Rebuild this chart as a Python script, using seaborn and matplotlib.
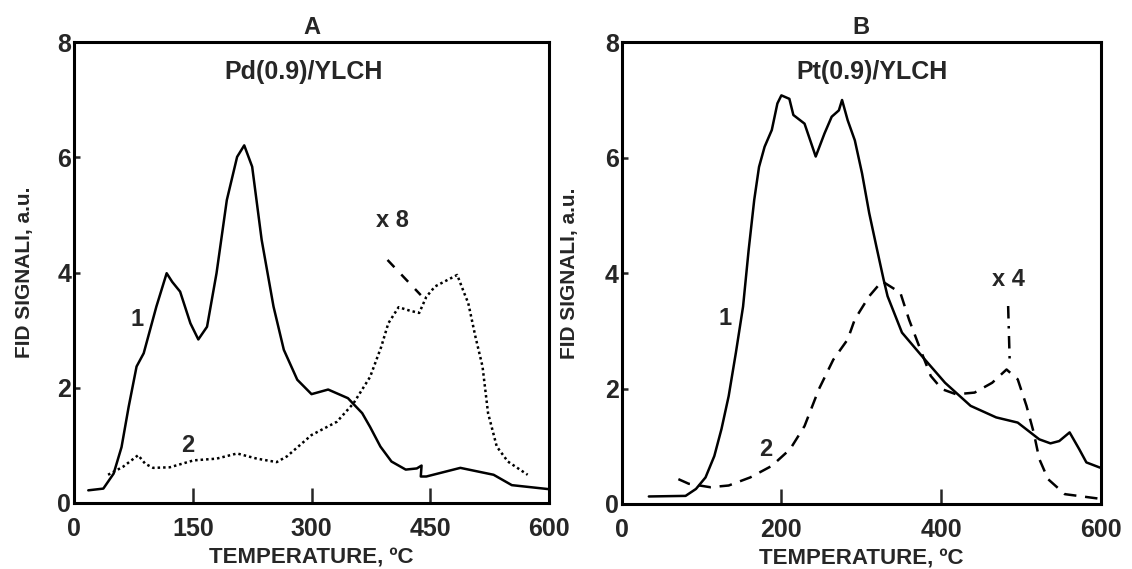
import numpy as np
import pandas as pd
import seaborn as sns
import matplotlib
matplotlib.use("Agg")
import matplotlib.pyplot as plt

# Panel A: Pd(0.9)/YLCH
a1_temp = [18, 37, 50, 60, 69, 79, 88, 104, 117, 124, 134, 147, 157, 168, 180, 193, 206, 215, 225, 237,
           252, 265, 282, 300, 321, 346, 364, 374, 387, 401, 419, 433, 439, 438, 445, 488, 516, 530,
           553, 600]
a1_sig = [0.22, 0.25, 0.51, 0.97, 1.67, 2.37, 2.60, 3.41, 3.99, 3.84, 3.67, 3.12, 2.84, 3.06, 3.99, 5.26,
          6.01, 6.21, 5.84, 4.57, 3.41, 2.66, 2.14, 1.89, 1.97, 1.82, 1.56, 1.32, 0.98, 0.72, 0.58, 0.60,
          0.65, 0.46, 0.46, 0.61, 0.53, 0.49, 0.31, 0.24]

a2_temp = [43, 62, 81, 90, 100, 121, 151, 180, 206, 231, 256, 269, 300, 332, 353, 374, 388, 397, 410,
           424, 436, 445, 456, 484, 493, 498, 507, 516, 523, 534, 548, 573]
a2_sig = [0.49, 0.63, 0.83, 0.68, 0.61, 0.62, 0.74, 0.77, 0.86, 0.77, 0.71, 0.81, 1.18, 1.41, 1.73, 2.19,
          2.71, 3.12, 3.40, 3.34, 3.30, 3.58, 3.76, 3.96, 3.64, 3.47, 2.89, 2.37, 1.56, 0.98, 0.72, 0.49]

a_ptr_temp = [396, 438]
a_ptr_sig = [4.22, 3.61]

# Panel B: Pt(0.9)/YLCH
b1_temp = [34, 80, 93, 105, 116, 125, 134, 143, 152, 159, 166, 172, 179, 188, 195, 200, 210, 215, 229,
           243, 254, 263, 272, 276, 283, 292, 301, 310, 319, 328, 333, 351, 378, 405, 437, 469, 496,
           523, 537, 548, 561, 573, 582, 599]
b1_sig = [0.13, 0.14, 0.26, 0.46, 0.83, 1.30, 1.87, 2.62, 3.42, 4.40, 5.27, 5.84, 6.19, 6.48, 6.94, 7.08,
          7.02, 6.74, 6.59, 6.02, 6.42, 6.71, 6.82, 7.00, 6.65, 6.30, 5.73, 5.04, 4.46, 3.89, 3.60, 2.97,
          2.53, 2.10, 1.70, 1.50, 1.41, 1.12, 1.05, 1.09, 1.24, 0.95, 0.72, 0.63]

b2_temp = [71, 84, 111, 134, 161, 188, 211, 229, 247, 265, 283, 292, 310, 326, 349, 360, 374, 387, 401,
           419, 442, 464, 482, 496, 507, 516, 523, 534, 555, 599]
b2_sig = [0.43, 0.35, 0.29, 0.32, 0.46, 0.66, 0.95, 1.35, 1.99, 2.50, 2.85, 3.20, 3.60, 3.86, 3.66, 3.19,
          2.68, 2.22, 1.99, 1.90, 1.93, 2.10, 2.33, 2.16, 1.70, 1.24, 0.78, 0.43, 0.17, 0.09]

b_ptr_temp = [484, 486]
b_ptr_sig = [3.43, 2.45]

sns.set_style("ticks")
plt.rcParams['font.family'] = ['Liberation Sans', 'DejaVu Sans']
plt.rcParams['font.weight'] = 'bold'

fig = plt.figure(figsize=(11.32, 5.69), dpi=100)
ax_a = fig.add_axes([0.0654, 0.116, 0.4196, 0.8097])
ax_b = fig.add_axes([0.5492, 0.1143, 0.4232, 0.8114])


def draw_line(ax, xs, ys, style):
    df = pd.DataFrame({"t": xs, "s": ys})
    sns.lineplot(data=df, x="t", y="s", ax=ax, sort=False, estimator=None,
                 color="black", linewidth=1.8, linestyle=style)


# Panel A
draw_line(ax_a, a1_temp, a1_sig, "-")
draw_line(ax_a, a2_temp, a2_sig, (0, (1, 1.2)))
draw_line(ax_a, a_ptr_temp, a_ptr_sig, (0, (4, 4)))
ax_a.set_xlim(0, 600)
ax_a.set_xticks([0, 150, 300, 450, 600])
ax_a.text(79, 3.18, "1", fontsize=17, fontweight="bold", ha="center", va="center")
ax_a.text(144, 1.0, "2", fontsize=17, fontweight="bold", ha="center", va="center")
ax_a.text(402, 4.91, "x 8", fontsize=17, fontweight="bold", ha="center", va="center")
ax_a.text(290, 7.49, "Pd(0.9)/YLCH", fontsize=18, fontweight="bold", ha="center", va="center")
ax_a.set_title("A", fontsize=17, fontweight="bold", pad=6)

# Panel B
draw_line(ax_b, b1_temp, b1_sig, "-")
draw_line(ax_b, b2_temp, b2_sig, (0, (5, 3.5)))
draw_line(ax_b, b_ptr_temp, b_ptr_sig, (0, (5, 3, 1, 3)))
ax_b.set_xlim(0, 600)
ax_b.set_xticks([0, 200, 400, 600])
ax_b.text(129, 3.22, "1", fontsize=17, fontweight="bold", ha="center", va="center")
ax_b.text(181, 0.95, "2", fontsize=17, fontweight="bold", ha="center", va="center")
ax_b.text(484, 3.89, "x 4", fontsize=17, fontweight="bold", ha="center", va="center")
ax_b.text(314, 7.48, "Pt(0.9)/YLCH", fontsize=18, fontweight="bold", ha="center", va="center")
ax_b.set_title("B", fontsize=17, fontweight="bold", pad=6)

for ax, ylab_x in ((ax_a, -0.085), (ax_b, -0.09)):
    ax.set_ylim(0, 8)
    ax.set_yticks([0, 2, 4, 6, 8])
    for sp in ax.spines.values():
        sp.set_visible(True)
        sp.set_linewidth(2.2)
        sp.set_color("black")
    ax.tick_params(axis="x", direction="in", length=11, width=1.8, labelsize=18, pad=10)
    ax.tick_params(axis="y", direction="in", length=4, width=1.8, labelsize=18, pad=2)
    for lab in ax.get_xticklabels() + ax.get_yticklabels():
        lab.set_fontweight("bold")
    ax.set_xlabel("TEMPERATURE, ºC", fontsize=16, fontweight="bold", labelpad=5)
    ax.set_ylabel("FID SIGNALI, a.u.", fontsize=15, fontweight="bold")
    ax.yaxis.set_label_coords(ylab_x, 0.5)

fig.savefig("out.png", dpi=100)
